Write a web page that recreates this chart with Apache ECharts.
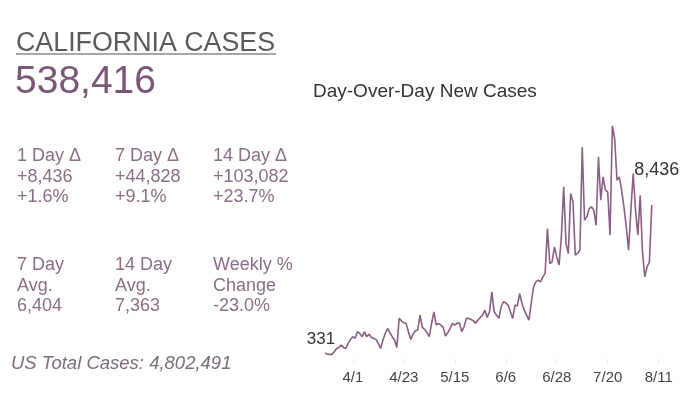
<!DOCTYPE html>
<html>
<head>
<meta charset="utf-8">
<script src="https://cdn.jsdelivr.net/npm/echarts@6/dist/echarts.min.js"></script>
<style>
html,body{margin:0;padding:0;background:#fff;}
#chart{width:700px;height:395px;}
</style>
</head>
<body>
<div id="chart"></div>
<script>
// ---- data ----
var titleText = 'CALIFORNIA CASES';
var totalCases = '538,416';
var chartTitle = 'Day-Over-Day New Cases';
var usTotal = 'US Total Cases: 4,802,491';
var statsRow1 = [
  ['1 Day \u0394', '+8,436', '+1.6%'],
  ['7 Day \u0394', '+44,828', '+9.1%'],
  ['14 Day \u0394', '+103,082', '+23.7%']
];
var statsRow2 = [
  ['7 Day', 'Avg.', '6,404'],
  ['14 Day', 'Avg.', '7,363'],
  ['Weekly %', 'Change', '-23.0%']
];
var startMonth = 3, startDay = 20;   // first day shown: 3/20
var endMonth = 8, endDay = 11;       // axis runs to 8/11
var tickLabels = ['4/1', '4/23', '5/15', '6/6', '6/28', '7/20', '8/11'];
var newCases = [
  331, 290, 273, 275, 420, 600, 655, 780, 655, 600,
  875, 1090, 1240, 1150, 1510, 1420, 1240, 1510, 1240, 1380,
  1200, 1150, 1090, 875, 600, 1060, 1420, 1690, 1460, 1240,
  1060, 655, 2240, 2110, 2000, 1970, 1510, 1090, 1380, 1565,
  1600, 2420, 1750, 1640, 1460, 1240, 1970, 2600, 1875, 1970,
  1875, 1750, 1275, 1460, 1690, 1970, 1875, 1970, 2000, 1510,
  1780, 2240, 2240, 2180, 2110, 1970, 2150, 2290, 2420, 2690,
  2290, 2600, 3690, 2600, 2420, 2240, 2875, 3150, 3090, 2970,
  2600, 2240, 2970, 2910, 3600, 3060, 2690, 2420, 2150, 3060,
  3970, 4240, 4330, 4240, 4510, 4700, 7150, 5240, 5330, 6150,
  5600, 5150, 6700, 9430, 6330, 5790, 9060, 8610, 5700, 5790,
  5970, 11610, 7610, 7790, 8240, 8340, 8150, 7330, 11070, 8700,
  9970, 9250, 9150, 6790, 12760, 12070, 9790, 9970, 9250, 8340,
  7240, 5970, 8150, 10160, 8150, 6790, 8970, 5880, 4510, 5060,
  5330, 8436
];

// category dates
var dates = [];
(function(){
  var d = new Date(2020, startMonth - 1, startDay);
  var end = new Date(2020, endMonth - 1, endDay);
  while (d <= end) {
    dates.push((d.getMonth() + 1) + '/' + d.getDate());
    d.setDate(d.getDate() + 1);
  }
})();

var FONT = 'Liberation Sans, Arial, sans-serif';
var statColor = '#8b6d88';
var graphics = [];
graphics.push({type:'text', left:16, top:30, style:{text:titleText, font:'26.8px ' + FONT, fill:'#5a5a5a'}});
graphics.push({type:'line', shape:{x1:16, y1:54, x2:276, y2:54}, style:{stroke:'#8a8a8a', lineWidth:1.5}});
graphics.push({type:'text', left:15, top:63, style:{text:totalCases, font:'39px ' + FONT, fill:'#7a5677'}});
graphics.push({type:'text', left:313, top:82, style:{text:chartTitle, font:'19px ' + FONT, fill:'#333333'}});
var colX = [17, 115, 213];
function addBlock(rows, top0) {
  rows.forEach(function(col, ci){
    col.forEach(function(t, li){
      graphics.push({type:'text', left:colX[ci], top:top0 + li * 20.5,
        style:{text:t, font:'18px ' + FONT, fill:statColor}});
    });
  });
}
addBlock(statsRow1, 147.5);
addBlock(statsRow2, 256.5);
graphics.push({type:'text', left:11, top:354, style:{text:usTotal, font:'italic 18.5px ' + FONT, fill:'#7d6b7b'}});

var last = newCases.length - 1;
var option = {
  animation: false,
  backgroundColor: '#ffffff',
  graphic: graphics,
  grid: {left: 325, right: 41.3, top: 121.5, bottom: 35.6, containLabel: false},
  xAxis: {
    type: 'category',
    data: dates,
    boundaryGap: false,
    axisLine: {show: false},
    axisTick: {show: true, length: 4, lineStyle: {color: '#ececec'},
      interval: function(i, v){ return tickLabels.indexOf(v) >= 0; }},
    axisLabel: {color: '#444444', fontSize: 15, fontFamily: FONT, margin: 11,
      interval: function(i, v){ return tickLabels.indexOf(v) >= 0; }},
    splitLine: {show: false}
  },
  yAxis: {type: 'value', min: 0, max: 13000, show: false, splitLine: {show: false}},
  series: [{
    type: 'line',
    data: newCases,
    symbol: 'none',
    smooth: false,
    lineStyle: {color: '#8a5f84', width: 1.6},
    itemStyle: {color: '#8a5f84'},
    markPoint: {
      symbol: 'circle',
      symbolSize: 1,
      itemStyle: {color: 'rgba(0,0,0,0)'},
      label: {show: true, position: 'top', distance: 5, color: '#333333', fontFamily: FONT,
        formatter: function(p){ return p.value.toLocaleString('en-US'); }},
      data: [
        {coord: [0, newCases[0]], value: newCases[0], label: {offset: [-4, 0], fontSize: 17}},
        {coord: [last, newCases[last]], value: newCases[last], label: {offset: [5, -20], fontSize: 18}}
      ]
    }
  }]
};
var chart = echarts.init(document.getElementById('chart'), null, {renderer: 'canvas'});
chart.setOption(option);
</script>
</body>
</html>
